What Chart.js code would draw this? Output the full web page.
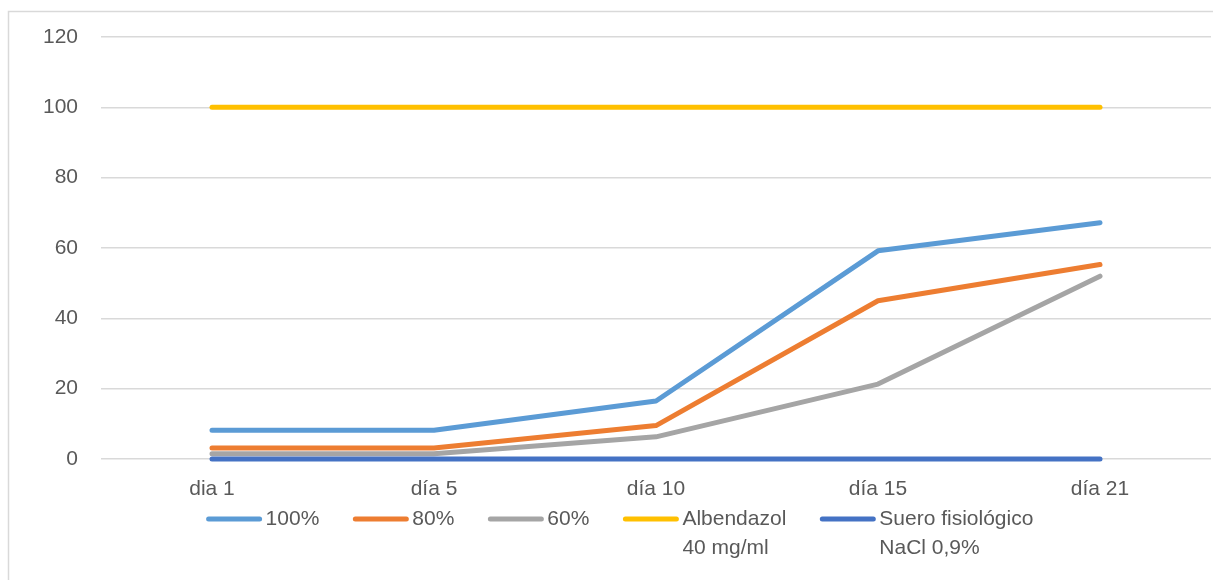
<!DOCTYPE html>
<html>
<head>
<meta charset="utf-8">
<script src="https://cdn.jsdelivr.net/npm/chart.js@4/dist/chart.umd.min.js"></script>
<style>
  html, body { margin: 0; padding: 0; background: #fff; }
  #wrap { width: 1213px; height: 580px; position: relative; }
</style>
</head>
<body>
<div id="wrap"><canvas id="chart" width="1213" height="580"></canvas></div>
<script>
// Datos
const dias = ['dia 1', 'día 5', 'día 10', 'día 15', 'día 21'];
const serie100 = [8.2, 8.2, 16.5, 59.2, 67.2];
const serie80 = [3.1, 3.1, 9.5, 45, 55.3];
const serie60 = [1.5, 1.5, 6.3, 21.3, 52];
const albendazol = [100, 100, 100, 100, 100];
const suero = [0, 0, 0, 0, 0];
const yTicks = [0, 20, 40, 60, 80, 100, 120];

const FONT = '"Liberation Sans", Arial, sans-serif';
const TEXT_COLOR = '#595959';

// Borde exterior del gráfico (solo izquierda y arriba son visibles)
const outerBorder = {
  id: 'outerBorder',
  beforeDraw(chart) {
    const { ctx } = chart;
    ctx.save();
    ctx.strokeStyle = '#D9D9D9';
    ctx.lineWidth = 1.5;
    ctx.beginPath();
    ctx.moveTo(8.5, chart.height + 2);
    ctx.lineTo(8.5, 11.5);
    ctx.lineTo(chart.width + 2, 11.5);
    ctx.stroke();
    ctx.restore();
  },
};

// Leyenda propia, para permitir etiquetas de dos líneas
const customLegend = {
  id: 'customLegend',
  afterDraw(chart) {
    const { ctx } = chart;
    const items = chart.data.datasets.map((ds) => ({
      lines: ds.legendLines,
      color: ds.borderColor,
    }));
    const swatch = 55;
    const gapText = 4;
    const gapItem = 34;
    ctx.save();
    ctx.font = '21px ' + FONT;
    items.forEach((it) => {
      it.w = swatch + gapText + Math.max(...it.lines.map((l) => ctx.measureText(l).width));
    });
    const total = items.reduce((s, it) => s + it.w, 0) + gapItem * (items.length - 1);
    let x = 620 - total / 2;
    const y = 519;
    const lineH = 29;
    items.forEach((it) => {
      ctx.strokeStyle = it.color;
      ctx.lineWidth = 5;
      ctx.lineCap = 'round';
      ctx.beginPath();
      ctx.moveTo(x + 2, y);
      ctx.lineTo(x + swatch - 2, y);
      ctx.stroke();
      ctx.fillStyle = TEXT_COLOR;
      ctx.textBaseline = 'middle';
      ctx.textAlign = 'left';
      it.lines.forEach((l, i) => ctx.fillText(l, x + swatch + gapText, y + i * lineH));
      x += it.w + gapItem;
    });
    ctx.restore();
  },
};

const makeDs = (label, legendLines, data, color, order) => ({
  label,
  legendLines,
  data,
  borderColor: color,
  backgroundColor: color,
  borderWidth: 5,
  borderCapStyle: 'round',
  borderJoinStyle: 'round',
  pointRadius: 0,
  pointHoverRadius: 0,
  tension: 0,
  fill: false,
  clip: false,
  order,
});

const chart = new Chart(document.getElementById('chart'), {
  type: 'line',
  data: {
    labels: dias,
    datasets: [
      makeDs('100%', ['100%'], serie100, '#5B9BD5', 5),
      makeDs('80%', ['80%'], serie80, '#ED7D31', 4),
      makeDs('60%', ['60%'], serie60, '#A5A5A5', 3),
      makeDs('Albendazol 40 mg/ml', ['Albendazol', '40 mg/ml'], albendazol, '#FFC000', 2),
      makeDs('Suero fisiológico NaCl 0,9%', ['Suero fisiológico', 'NaCl 0,9%'], suero, '#4472C4', 1),
    ],
  },
  options: {
    responsive: false,
    animation: false,
    devicePixelRatio: 1,
    layout: { padding: { left: 0, right: 2, top: 37, bottom: 0 } },
    plugins: {
      legend: { display: false },
      tooltip: { enabled: false },
    },
    scales: {
      x: {
        type: 'category',
        offset: true,
        grid: { display: false, drawTicks: false },
        border: { display: false },
        ticks: {
          color: TEXT_COLOR,
          font: { family: FONT, size: 21 },
          padding: 18,
          maxRotation: 0,
          autoSkip: false,
        },
        afterFit: (s) => { s.height = 580 - 459; },
      },
      y: {
        min: 0,
        max: 120,
        afterBuildTicks: (s) => { s.ticks = yTicks.map((v) => ({ value: v })); },
        grid: { color: '#D9D9D9', lineWidth: 1.5, drawTicks: false },
        border: { display: false },
        ticks: {
          color: TEXT_COLOR,
          font: { family: FONT, size: 21 },
          padding: 23,
        },
        afterFit: (s) => { s.width = 101; },
      },
    },
  },
  plugins: [outerBorder, customLegend],
});
</script>
</body>
</html>
